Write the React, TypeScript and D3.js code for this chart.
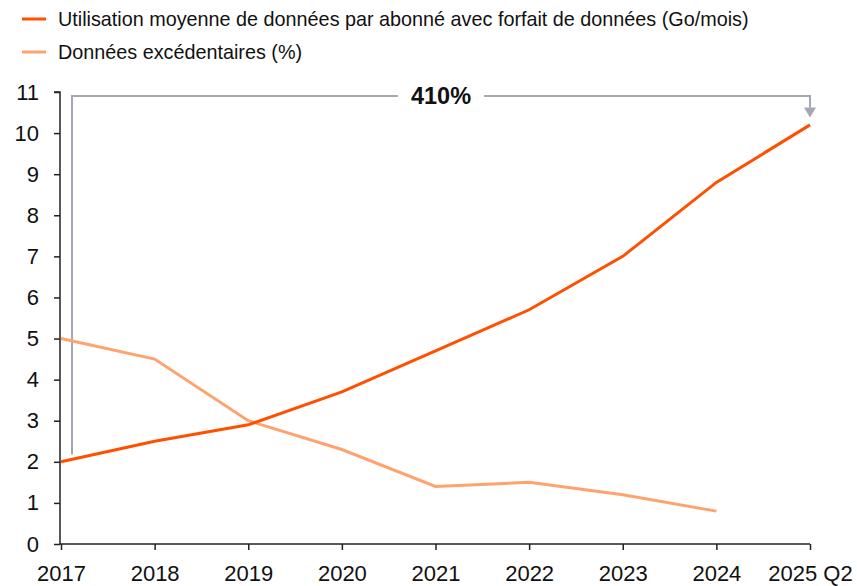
import React, { useEffect, useRef } from 'react';
import * as d3 from 'd3';

const years = ['2017', '2018', '2019', '2020', '2021', '2022', '2023', '2024', '2025 Q2'];
const usage = [2.0, 2.5, 2.9, 3.7, 4.7, 5.7, 7.0, 8.8, 10.2];
const excess = [5.0, 4.5, 3.0, 2.3, 1.4, 1.5, 1.2, 0.8];
const yTicks = [0, 1, 2, 3, 4, 5, 6, 7, 8, 9, 10, 11];
const legendLabels = [
  'Utilisation moyenne de données par abonné avec forfait de données (Go/mois)',
  'Données excédentaires (%)',
];
const growthLabel = '410%';

const DARK = '#ff5000';
const LIGHT = '#ffa36e';
const GREY = '#a3a7b2';

export default function App() {
  const ref = useRef<SVGSVGElement>(null);

  useEffect(() => {
    const width = 857, height = 586;
    const margin = { top: 92, left: 60, right: 47, bottom: 42 };
    const svg = d3.select(ref.current).attr('width', width).attr('height', height);
    svg.selectAll('*').remove();

    const x = d3.scalePoint<string>().domain(years).range([margin.left + 1, width - margin.right]);
    const y = d3.scaleLinear().domain([0, 11]).range([height - margin.bottom, margin.top]);

    const font = "'Liberation Sans', Arial, sans-serif";

    // legend
    const legend = svg.append('g');
    legendLabels.forEach((lab, i) => {
      const ly = 19 + i * 33;
      legend.append('line').attr('x1', 22).attr('x2', 46).attr('y1', ly).attr('y2', ly)
        .attr('stroke', i === 0 ? DARK : LIGHT).attr('stroke-width', 3);
      legend.append('text').attr('x', 58).attr('y', ly).attr('dy', '0.35em')
        .attr('font-family', font).attr('font-size', 19.8).attr('fill', '#111').text(lab);
    });

    // axes
    const yAxis = svg.append('g').attr('transform', `translate(${margin.left},0)`)
      .call(d3.axisLeft(y).tickValues(yTicks).tickSize(6).tickPadding(15).tickFormat(d3.format('d')));
    const xAxis = svg.append('g').attr('transform', `translate(0,${height - margin.bottom})`)
      .call(d3.axisBottom(x).tickSize(6).tickPadding(15).tickSizeOuter(0));
    xAxis.select('.domain').attr('d', `M${margin.left},0H${x('2025 Q2')}`);
    yAxis.select('.domain').attr('d', `M-6,${y(11)}H0V${y(0)}`);
    [xAxis, yAxis].forEach(ax => {
      ax.selectAll('path, line').attr('stroke', '#222').attr('stroke-width', 1.5);
      ax.selectAll('text').attr('font-family', font).attr('font-size', 22).attr('fill', '#111');
    });

    // bracket annotation
    const bx0 = x('2017')! + 11;
    const bx1 = x('2025 Q2')!;
    const by = y(10.9);
    const labelX = 441;
    const ann = svg.append('g').attr('stroke', GREY).attr('stroke-width', 2).attr('fill', 'none');
    ann.append('path').attr('d', `M${bx0},${y(2.18)}V${by}H${labelX - 43}`);
    ann.append('path').attr('d', `M${labelX + 43},${by}H${bx1}V${y(10.62)}`);
    svg.append('path')
      .attr('d', `M${bx1 - 6},${y(10.62)}L${bx1 + 6},${y(10.62)}L${bx1},${y(10.38)}Z`)
      .attr('fill', GREY);
    svg.append('text').attr('x', labelX).attr('y', by).attr('dy', '0.35em')
      .attr('text-anchor', 'middle').attr('font-family', font).attr('font-size', 23.5)
      .attr('font-weight', 'bold').attr('fill', '#111').text(growthLabel);

    // lines
    const line = d3.line<number>().x((_, i) => x(years[i])!).y(d => y(d));
    svg.append('path').datum(excess).attr('d', line).attr('fill', 'none')
      .attr('stroke', LIGHT).attr('stroke-width', 3);
    svg.append('path').datum(usage).attr('d', line).attr('fill', 'none')
      .attr('stroke', DARK).attr('stroke-width', 3);
  }, []);

  return (
    <svg ref={ref} style={{ position: 'absolute', left: 0, top: 0, display: 'block' }}></svg>
  );
}
